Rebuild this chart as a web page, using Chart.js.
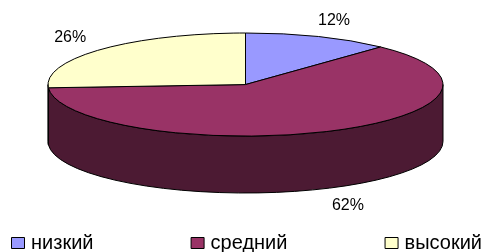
<!DOCTYPE html>
<html>
<head>
<meta charset="utf-8">
<script src="https://cdn.jsdelivr.net/npm/chart.js@4/dist/chart.umd.min.js"></script>
<style>
html,body{margin:0;padding:0;background:#fff;}
#wrap{width:484px;height:252px;position:relative;}
</style>
</head>
<body>
<div id="wrap"><canvas id="c" width="484" height="252"></canvas></div>
<script>
const categories = ['низкий', 'средний', 'высокий'];
const values = [12, 62, 26];
const labelsText = ['12%', '62%', '26%'];
const topColors = ['#9999FF', '#993366', '#FFFFCC'];
const sideColors = ['#4C4C80', '#4C1A33', '#808066'];

const pie3d = {
  id: 'pie3d',
  beforeDatasetsDraw() { return false; },
  afterDraw(chart) {
    const ctx = chart.ctx;
    const a = chart.chartArea;
    const meta = chart.getDatasetMeta(0);
    const cx = (a.left + a.right) / 2;
    const rx = (a.right - a.left) / 2;
    const ry = rx * 0.261;
    const depth = (a.bottom - a.top) - 2 * ry;
    const cy = a.top + ry;
    ctx.save();
    ctx.lineWidth = 1;
    ctx.strokeStyle = '#000';
    ctx.lineJoin = 'round';
    // side walls
    meta.data.forEach((arc, i) => {
      const s = Math.max(arc.startAngle, 0);
      const e = Math.min(arc.endAngle, Math.PI);
      if (e <= s) return;
      ctx.beginPath();
      ctx.ellipse(cx, cy, rx, ry, 0, s, e, false);
      ctx.lineTo(cx + rx * Math.cos(e), cy + ry * Math.sin(e) + depth);
      ctx.ellipse(cx, cy + depth, rx, ry, 0, e, s, true);
      ctx.closePath();
      ctx.fillStyle = sideColors[i];
      ctx.fill();
      ctx.stroke();
    });
    // top faces
    meta.data.forEach((arc, i) => {
      ctx.beginPath();
      ctx.moveTo(cx, cy);
      ctx.ellipse(cx, cy, rx, ry, 0, arc.startAngle, arc.endAngle, false);
      ctx.closePath();
      ctx.fillStyle = topColors[i];
      ctx.fill();
      ctx.stroke();
    });
    // percentage labels
    ctx.fillStyle = '#000';
    ctx.font = '16px "Liberation Sans", Arial, sans-serif';
    ctx.textAlign = 'center';
    ctx.textBaseline = 'middle';
    meta.data.forEach((arc, i) => {
      const m = (arc.startAngle + arc.endAngle) / 2;
      const sn = Math.sin(m);
      const x = cx + (rx + 43) * Math.cos(m);
      const y = cy + (ry + 18) * sn + (sn > 0 ? depth : 0);
      ctx.fillText(labelsText[i], x, y + 1);
    });
    // legend (justified across the bottom)
    ctx.font = '20px "Liberation Sans", Arial, sans-serif';
    ctx.textAlign = 'left';
    ctx.textBaseline = 'alphabetic';
    const boxW = 14, boxH = 12, gapT = 6, left = 11, right = 482, base = 249;
    const widths = categories.map(t => boxW + gapT + ctx.measureText(t).width);
    const total = widths.reduce((p, q) => p + q, 0);
    const gap = (right - left - total) / (categories.length - 1);
    let x = left;
    categories.forEach((t, i) => {
      ctx.fillStyle = topColors[i];
      ctx.fillRect(x + 0.5, base - 11.5, boxW - 1, boxH - 1);
      ctx.strokeRect(x + 0.5, base - 11.5, boxW - 1, boxH - 1);
      ctx.fillStyle = '#000';
      ctx.fillText(t, x + boxW + gapT, base);
      x += widths[i] + gap;
    });
    ctx.restore();
  }
};

new Chart(document.getElementById('c'), {
  type: 'pie',
  data: {
    labels: categories,
    datasets: [{ data: values, backgroundColor: topColors, borderColor: '#000', borderWidth: 1 }]
  },
  options: {
    responsive: false,
    animation: false,
    layout: { padding: { left: 48, right: 41, top: 33, bottom: 59 } },
    plugins: { legend: { display: false }, tooltip: { enabled: false } }
  },
  plugins: [pie3d]
});
</script>
</body>
</html>
